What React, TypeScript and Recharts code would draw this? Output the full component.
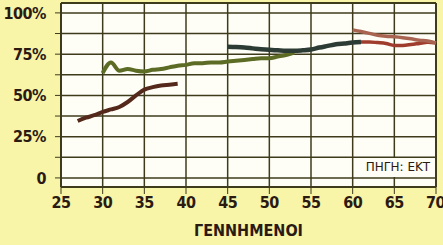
import { LineChart, Line, XAxis, YAxis, CartesianGrid, ReferenceLine } from 'recharts'

const ageTicks = [25, 30, 35, 40, 45, 50, 55, 60, 65, 70]
const shareTicks = [0, 12.5, 25, 37.5, 50, 62.5, 75, 87.5, 100]

const brownAges = [27, 28, 29, 30, 31, 32, 33, 34, 35, 36, 37, 38, 39]
const brownShare = [34.5, 36.5, 38, 40, 41.5, 43, 46, 50, 53.5, 55, 56, 56.5, 57]

const greenAges = [30, 31, 32, 33, 34, 35, 36, 37, 38, 39, 40, 41, 42, 43, 44, 45, 46, 47, 48, 49, 50, 51, 52, 53]
const greenShare = [63.5, 70, 65, 66, 65, 64.5, 65.5, 66, 67, 68, 68.5, 69.5, 69.5, 70, 70, 70.5, 71, 71.5, 72, 72.5, 72.5, 73.5, 74.5, 76]

const darkAges = [45, 46, 47, 48, 49, 50, 51, 52, 53, 54, 55, 56, 57, 58, 59, 60, 61]
const darkShare = [79.5, 79.3, 79, 78.5, 78, 77.6, 77.3, 77, 77, 77.3, 77.8, 79, 80, 81, 81.5, 82, 82.3]

const redAges = [61, 62, 63, 64, 65, 66, 67, 68, 69, 70]
const redShare = [82.3, 82.4, 82, 81.5, 80.3, 80.3, 80.8, 81.5, 82.2, 81.8]

const salmonAges = [60, 61, 62, 63, 64, 65, 66, 67, 68, 69, 70]
const salmonShare = [89.7, 88.7, 87.6, 86.4, 85.8, 85.5, 85, 84.3, 83.4, 83, 81.8]

const toRows = (ages: number[], vals: number[]) => ages.map((age, i) => ({ age, share: vals[i] }))

const INK = '#2b1a12'
const GRID = '#3e3b1c'
const PAPER = '#fefef6'
const COND = 'DejaVu Sans Condensed'

const tickFont = { fill: INK, fontSize: 16, fontWeight: 'bold', fontFamily: COND, letterSpacing: -0.5 }

export default function App() {
  return (
    <div style={{ position: 'absolute', left: 0, top: 0, width: 443, height: 245, background: '#f8f4a8' }}>
      {/* white paper behind the plot area */}
      <div style={{ position: 'absolute', left: 61, top: 3, width: 375, height: 184, background: PAPER, zIndex: 0 }} />
      <div style={{ position: 'relative', zIndex: 1 }}>
        <LineChart width={443} height={245} margin={{ top: 3, right: 7, bottom: 8, left: 0 }}>
          <CartesianGrid stroke={GRID} strokeWidth={1.5} />
          <XAxis type="number" dataKey="age" domain={[25, 70]} ticks={ageTicks} stroke={GRID}
            height={50} tickSize={7} tickMargin={3} tick={tickFont}
            label={{ value: 'ΓΕΝΝΗΜΕΝΟΙ', position: 'insideBottom', offset: 1, fill: INK,
              fontSize: 16, fontWeight: 'bold', fontFamily: COND }} />
          <YAxis type="number" domain={[-5.5, 106]} ticks={shareTicks} width={61} stroke={GRID}
            tickSize={6} tickMargin={9} tick={tickFont}
            tickFormatter={(v: number) => (v % 25 !== 0 ? '' : v === 0 ? '0' : `${v}%`)} />
          <ReferenceLine y={106} stroke={GRID} strokeWidth={2} />
          <ReferenceLine y={-5.5} stroke={GRID} strokeWidth={2} />
          <ReferenceLine x={25} stroke={GRID} strokeWidth={2} />
          <ReferenceLine x={70} stroke={GRID} strokeWidth={2} />
          <Line data={toRows(brownAges, brownShare)} dataKey="share" type="monotone" stroke="#55281c"
            strokeWidth={4} dot={false} isAnimationActive={false} />
          <Line data={toRows(greenAges, greenShare)} dataKey="share" type="monotone" stroke="#5c6c24"
            strokeWidth={4} dot={false} isAnimationActive={false} />
          <Line data={toRows(darkAges, darkShare)} dataKey="share" type="monotone" stroke="#2c3c34"
            strokeWidth={4.5} dot={false} isAnimationActive={false} />
          <Line data={toRows(redAges, redShare)} dataKey="share" type="monotone" stroke="#a03c2c"
            strokeWidth={3.5} dot={false} isAnimationActive={false} />
          <Line data={toRows(salmonAges, salmonShare)} dataKey="share" type="monotone" stroke="#a86450"
            strokeWidth={3.5} dot={false} isAnimationActive={false} />
        </LineChart>
      </div>
      {/* source note box */}
      <div style={{ position: 'absolute', left: 361, top: 158, width: 74, height: 19, zIndex: 2,
        background: PAPER, color: INK, fontFamily: '"DejaVu Sans", sans-serif', fontSize: 12,
        lineHeight: '19px', textAlign: 'center' }}>
        ΠΗΓΗ: ΕΚΤ
      </div>
    </div>
  )
}
